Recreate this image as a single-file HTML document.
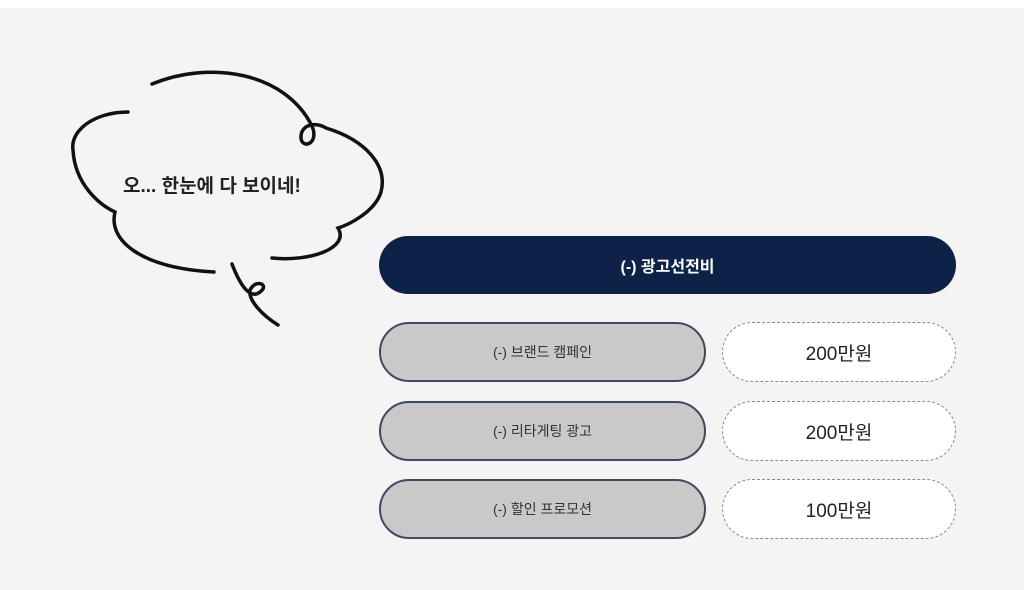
<!DOCTYPE html>
<html><head><meta charset="utf-8"><style>
html,body{margin:0;padding:0;}
body{width:1024px;height:590px;background:#f4f4f4;position:relative;overflow:hidden;font-family:"Liberation Sans","Noto Sans CJK KR",sans-serif;}
.top{position:absolute;left:0;top:0;width:1024px;height:8px;background:#fff;}
.pill{position:absolute;box-sizing:border-box;border-radius:30px;display:flex;align-items:center;justify-content:center;}
.dark{left:379px;top:236px;width:577px;height:58px;background:#0e2147;color:#fff;font-size:16px;font-weight:bold;}
.gray{left:379px;width:327px;height:60px;background:#c9c9c9;border:2px solid #3e4a60;color:#333;font-size:14px;}
.val{left:722px;width:234px;height:60px;background:#fff;border:1.5px dashed #8a8a8a;color:#222;font-size:19px;}
.txt{position:absolute;left:123px;top:171px;font-size:19px;font-weight:bold;color:#222;white-space:nowrap;}
</style></head><body>
<div class="top"></div>
<svg width="1024" height="590" style="position:absolute;left:0;top:0" fill="none" stroke="#111" stroke-width="3.5" stroke-linecap="round">
<path d="M152,84 C210,60 285,72 312,126 C320,145 300,150 301,136 C302,124 316,122 326,128 C365,140 388,165 381,192 C375,212 348,225 338,228 C350,248 310,262 272,258"/>
<path d="M128,112 C95,112 70,130 73,150 C75,185 100,205 115,212 C108,240 140,268 214,272"/>
<path d="M232,264 C240,285 250,300 260,292 C270,285 256,278 250,290 C248,300 262,315 278,325"/>
</svg>
<div class="txt">오... 한눈에 다 보이네!</div>
<div class="pill dark">(-) 광고선전비</div>
<div class="pill gray" style="top:322px">(-) 브랜드 캠페인</div>
<div class="pill gray" style="top:401px">(-) 리타게팅 광고</div>
<div class="pill gray" style="top:479px">(-) 할인 프로모션</div>
<div class="pill val" style="top:322px">200만원</div>
<div class="pill val" style="top:401px">200만원</div>
<div class="pill val" style="top:479px">100만원</div>
</body></html>
